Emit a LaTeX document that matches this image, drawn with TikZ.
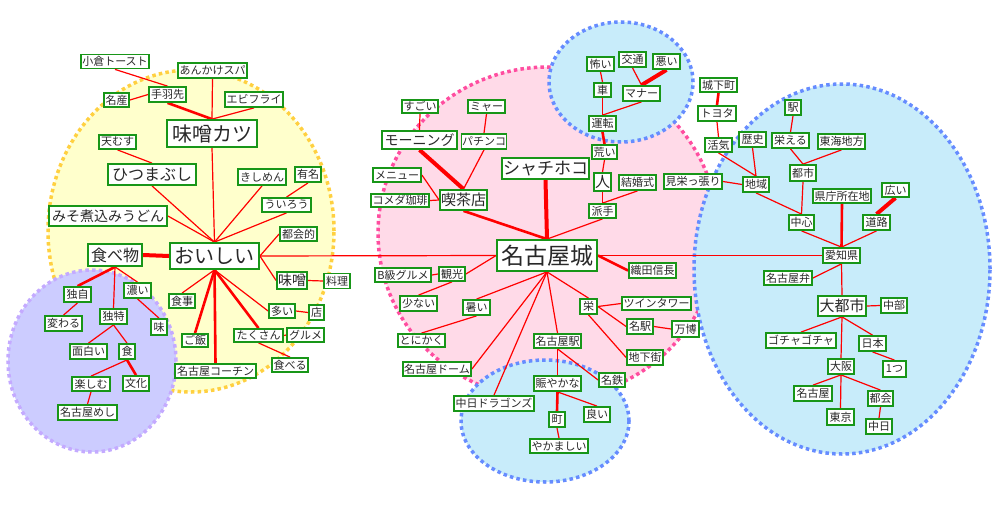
\documentclass[tikz,border=0pt]{standalone}
\usepackage{fontspec}
\usetikzlibrary{backgrounds}
\newfontfamily\jp{Noto Sans CJK JP}
\definecolor{nodegreen}{RGB}{24,150,24}
\definecolor{yfill}{RGB}{255,255,204}
\definecolor{ydraw}{RGB}{255,208,64}
\definecolor{pfill}{RGB}{204,204,255}
\definecolor{pdraw}{RGB}{196,170,255}
\definecolor{kfill}{RGB}{255,218,232}
\definecolor{kdraw}{RGB}{255,77,160}
\definecolor{bfill}{RGB}{200,236,250}
\definecolor{bdraw}{RGB}{102,140,255}
\definecolor{ink}{RGB}{40,40,40}
\tikzset{
  box/.style={draw=nodegreen, line width=1.8pt, fill=white, inner sep=0.5pt, text=ink},
  s11/.style={font=\jp\fontsize{11}{12}\selectfont},
  s14/.style={font=\jp\fontsize{14}{15}\selectfont},
  s15/.style={font=\jp\fontsize{15}{16}\selectfont},
  s16/.style={font=\jp\fontsize{16}{17}\selectfont},
  s17/.style={font=\jp\fontsize{17}{18}\selectfont},
  s20/.style={font=\jp\fontsize{20}{21}\selectfont},
  s23/.style={font=\jp\fontsize{23}{24}\selectfont},
  ln/.style={draw=red, line width=1.2pt},
  lnm/.style={draw=red, line width=2.6pt},
  lnt/.style={draw=red, line width=4pt},
  cluster/.style={line width=3.5pt, dash pattern=on 3.5pt off 3.2pt},
}
\newcommand\nd[7]{\node[box,#6,minimum width=#4pt,minimum height=#5pt] (#1) at (#2,#3) {#7};}
\begin{document}
\begin{tikzpicture}[x=1pt,y=-1pt]
\useasboundingbox (0,0) rectangle (1000,519);

% nodes (yellow)
\nd{ogura}{115}{61.5}{68}{14}{s11}{小倉トースト}
\nd{ankake}{212.5}{70.5}{69}{15}{s11}{あんかけスパ}
\nd{meisan}{116.5}{100}{25}{14}{s11}{名産}
\nd{tebasaki}{167.5}{94.5}{37}{15}{s11}{手羽先}
\nd{ebi}{254}{99.5}{58}{15}{s11}{エビフライ}
\nd{misokatsu}{212}{133.5}{90}{27}{s20}{味噌カツ}
\nd{tenmusu}{117.5}{142}{37}{14}{s11}{天むす}
\nd{hitsu}{152}{174.5}{88}{21}{s16}{ひつまぶし}
\nd{kishi}{262}{177}{48}{16}{s11}{きしめん}
\nd{yumei}{308}{174.5}{26}{15}{s11}{有名}
\nd{uiro}{286.5}{205}{49}{14}{s11}{ういろう}
\nd{nikomi}{108}{216}{118}{20}{s14}{みそ煮込みうどん}
\nd{tokaiteki}{298.5}{234}{37}{14}{s11}{都会的}
\nd{tabemono}{115}{255}{54}{22}{s16}{食べ物}
\nd{oishii}{214.5}{256}{89}{26}{s20}{おいしい}
\nd{miso}{292}{280.5}{30}{17}{s14}{味噌}
\nd{ryori}{337}{281}{26}{15}{s11}{料理}
\nd{shokuji}{182}{301}{26}{14}{s11}{食事}
\nd{ooi}{282}{311}{26}{14}{s11}{多い}
\nd{mise}{316.5}{312.5}{15}{15}{s11}{店}
\nd{gohan}{195}{340.5}{26}{13}{s11}{ご飯}
\nd{takusan}{258.5}{335.5}{49}{13}{s11}{たくさん}
\nd{gurume}{305.5}{335}{37}{14}{s11}{グルメ}
\nd{taberu}{290}{365}{36}{14}{s11}{食べる}
\nd{cochin}{215.5}{371}{81}{14}{s11}{名古屋コーチン}
% purple
\nd{dokuji}{77.5}{294.5}{27}{15}{s11}{独自}
\nd{koi}{137.5}{290.5}{27}{15}{s11}{濃い}
\nd{dokutoku}{113.5}{316.5}{27}{15}{s11}{独特}
\nd{kawaru}{63.5}{323.5}{37}{15}{s11}{変わる}
\nd{aji}{159}{327}{16}{16}{s11}{味}
\nd{omoshiroi}{88.5}{351.5}{37}{15}{s11}{面白い}
\nd{shoku}{127}{351.5}{16}{15}{s11}{食}
\nd{tanoshimu}{91}{384}{38}{14}{s11}{楽しむ}
\nd{bunka}{136}{383.5}{26}{15}{s11}{文化}
\nd{meshi}{87.5}{412.5}{59}{15}{s11}{名古屋めし}
% pink
\nd{sugoi}{420}{106.5}{36}{13}{s11}{すごい}
\nd{myaa}{486.5}{106.5}{37}{13}{s11}{ミャー}
\nd{morning}{419.5}{140}{75}{18}{s14}{モーニング}
\nd{pachinko}{484}{141.5}{42}{15}{s11}{パチンコ}
\nd{shachi}{545.5}{168.5}{87}{21}{s17}{シャチホコ}
\nd{arai}{604.5}{152}{25}{14}{s11}{荒い}
\nd{hito}{602.5}{182}{17}{18}{s15}{人}
\nd{kekkon}{637.5}{182.5}{37}{15}{s11}{結婚式}
\nd{mie}{693}{181.5}{58}{15}{s11}{見栄っ張り}
\nd{menu}{397}{175}{48}{14}{s11}{メニュー}
\nd{komeda}{400}{200.5}{58}{13}{s11}{コメダ珈琲}
\nd{kissa}{463.5}{200}{47}{20}{s15}{喫茶店}
\nd{hade}{602.5}{211}{27}{14}{s11}{派手}
\nd{nagoyajo}{547}{255.5}{100}{31}{s23}{名古屋城}
\nd{bkyu}{403}{275}{56}{14}{s11}{B級グルメ}
\nd{kanko}{452}{274}{26}{14}{s11}{観光}
\nd{oda}{652.5}{270.5}{47}{15}{s11}{織田信長}
\nd{sukunai}{418.5}{303.5}{37}{15}{s11}{少ない}
\nd{atsui}{476.5}{307.5}{27}{15}{s11}{暑い}
\nd{sakae}{588.5}{306.5}{17}{15}{s11}{栄}
\nd{twin}{656.5}{303.5}{69}{13}{s11}{ツインタワー}
\nd{meieki}{640}{326.5}{26}{15}{s11}{名駅}
\nd{banpaku}{685.5}{329}{27}{16}{s11}{万博}
\nd{tonikaku}{421.5}{340.5}{47}{13}{s11}{とにかく}
\nd{nagoyaeki}{557.5}{341}{47}{14}{s11}{名古屋駅}
\nd{chika}{645}{357.5}{36}{15}{s11}{地下街}
\nd{dome}{437}{369}{68}{14}{s11}{名古屋ドーム}
\nd{nigi}{557.5}{383.5}{47}{15}{s11}{賑やかな}
\nd{meitetsu}{612}{380}{26}{14}{s11}{名鉄}
\nd{dragons}{494}{403.5}{80}{15}{s11}{中日ドラゴンズ}
\nd{machi}{557}{419.5}{16}{15}{s11}{町}
\nd{yoi}{597}{414.5}{26}{15}{s11}{良い}
\nd{yakamashii}{559}{446}{58}{14}{s11}{やかましい}
% blue top
\nd{kowai}{600.5}{64}{27}{14}{s11}{怖い}
\nd{kotsu}{632.5}{59.5}{27}{15}{s11}{交通}
\nd{warui}{666.5}{61.5}{27}{15}{s11}{悪い}
\nd{kuruma}{602.5}{90}{17}{14}{s11}{車}
\nd{manner}{641.5}{93.5}{37}{15}{s11}{マナー}
\nd{unten}{602.5}{123.5}{27}{15}{s11}{運転}
\nd{jokamachi}{718.5}{85}{37}{14}{s11}{城下町}
\nd{toyota}{717}{113.5}{38}{15}{s11}{トヨタ}
\nd{kakki}{718.5}{145}{27}{14}{s11}{活気}
% right
\nd{eki}{793}{107.5}{16}{15}{s11}{駅}
\nd{rekishi}{752.5}{139.5}{27}{15}{s11}{歴史}
\nd{sakaeru}{790.5}{140.5}{37}{15}{s11}{栄える}
\nd{tokai}{841.5}{141.5}{47}{15}{s11}{東海地方}
\nd{toshi}{803}{173}{26}{16}{s11}{都市}
\nd{chiiki}{756}{184.5}{26}{15}{s11}{地域}
\nd{kencho}{842}{196}{58}{14}{s11}{県庁所在地}
\nd{hiroi}{895.5}{190}{27}{14}{s11}{広い}
\nd{chushin}{801.5}{222.5}{25}{15}{s11}{中心}
\nd{doro}{876.5}{222.5}{27}{15}{s11}{道路}
\nd{aichi}{841.5}{255.5}{37}{15}{s11}{愛知県}
\nd{nagoyaben}{788}{278}{48}{14}{s11}{名古屋弁}
\nd{daitoshi}{842}{306}{48}{20}{s15}{大都市}
\nd{chubu}{894}{305.5}{26}{15}{s11}{中部}
\nd{gocha}{801}{340.5}{70}{15}{s11}{ゴチャゴチャ}
\nd{nihon}{872.5}{343.5}{27}{15}{s11}{日本}
\nd{osaka}{841}{366.5}{26}{15}{s11}{大阪}
\nd{hitotsu}{894.5}{369}{23}{16}{s11}{1つ}
\nd{nagoya}{813}{393.5}{38}{15}{s11}{名古屋}
\nd{tokai2}{880.5}{398.5}{25}{15}{s11}{都会}
\nd{tokyo}{840.5}{417}{27}{16}{s11}{東京}
\nd{chunichi}{879}{426.5}{26}{15}{s11}{中日}

\begin{scope}[on background layer]
\fill[white] (0,0) rectangle (1000,519);
% clusters
\draw[cluster, fill=yfill, draw=ydraw] (191,231) ellipse [x radius=143pt, y radius=161pt];
\draw[cluster, fill=pfill, draw=pdraw] (92,361) ellipse [x radius=84pt, y radius=91pt];
\draw[cluster, fill=kfill, draw=kdraw] (548,233) ellipse [x radius=170pt, y radius=166pt];
\draw[cluster, fill=bfill, draw=bdraw] (621,82) ellipse [x radius=72pt, y radius=60pt];
\draw[cluster, fill=bfill, draw=bdraw] (842,269) ellipse [x radius=148pt, y radius=185pt];
\draw[cluster, fill=bfill, draw=bdraw] (545,421) ellipse [x radius=84pt, y radius=61pt];
% edges: yellow
\draw[ln] (ogura.south) -- (tebasaki.north);
\draw[ln] (meisan.east) -- (tebasaki.west);
\draw[lnm] (tebasaki.south) -- (misokatsu.north);
\draw[ln] (ankake.south) -- (misokatsu.north);
\draw[ln] (ebi.south) -- (misokatsu.north);
\draw[ln] (tenmusu.south) -- (hitsu.north);
\draw[ln] (misokatsu.south) -- (oishii.north);
\draw[ln] (hitsu.south) -- (oishii.north);
\draw[ln] (nikomi.east) -- (oishii.north);
\draw[ln] (kishi.south) -- (oishii.north);
\draw[ln] (uiro.south) -- (oishii.north);
\draw[ln] (yumei.south) -- (uiro.north);
\draw[ln] (tokaiteki.west) -- (oishii.east);
\draw[ln] (miso.west) -- (oishii.east);
\draw[ln] (miso.east) -- (ryori.west);
\draw[lnt] (tabemono.east) -- (oishii.west);
\draw[ln] (oishii.south) -- (shokuji.north);
\draw[lnm] (oishii.south) -- (gohan.north);
\draw[lnm] (oishii.south) -- (cochin.north);
\draw[lnm] (oishii.south) -- (takusan.north);
\draw[ln] (oishii.south) -- (ooi.west);
\draw[ln] (ooi.east) -- (mise.west);
\draw[ln] (takusan.east) -- (gurume.west);
\draw[ln] (takusan.south) -- (taberu.north);
\draw[ln] (oishii.east) -- (nagoyajo.west);
% purple
\draw[lnm] (tabemono.south) -- (dokuji.north);
\draw[ln] (tabemono.south) -- (dokutoku.north);
\draw[ln] (tabemono.south) -- (koi.north);
\draw[ln] (dokuji.south) -- (kawaru.north);
\draw[ln] (koi.south) -- (aji.north);
\draw[ln] (dokutoku.south) -- (omoshiroi.north);
\draw[ln] (dokutoku.south) -- (shoku.north);
\draw[ln] (shoku.south) -- (tanoshimu.north);
\draw[lnm] (shoku.south) -- (bunka.north);
\draw[ln] (tanoshimu.south) -- (meshi.north);
% pink
\draw[ln] (sugoi.south) -- (morning.north);
\draw[ln] (myaa.south) -- (pachinko.north);
\draw[lnt] (morning.south) -- (kissa.north);
\draw[ln] (pachinko.south) -- (kissa.north);
\draw[ln] (menu.east) -- (kissa.west);
\draw[ln] (komeda.east) -- (kissa.west);
\draw[lnm] (kissa.south) -- (nagoyajo.north);
\draw[lnt] (shachi.south) -- (nagoyajo.north);
\draw[ln] (hade.south) -- (nagoyajo.north);
\draw[ln] (hito.south) -- (hade.north);
\draw[ln] (kekkon.south) -- (hade.north);
\draw[ln] (arai.south) -- (hito.north);
\draw[lnm] (unten.south) -- (arai.north);
\draw[ln] (kuruma.south) -- (unten.north);
\draw[ln] (kowai.south) -- (kuruma.north);
\draw[ln] (manner.south) -- (unten.north);
\draw[ln] (kotsu.south) -- (manner.north);
\draw[lnt] (warui.south) -- (manner.north);
\draw[lnm] (jokamachi.south) -- (toyota.north);
\draw[ln] (toyota.south) -- (kakki.north);
\draw[ln] (kakki.south) -- (chiiki.north);
\draw[ln] (mie.east) -- (chiiki.west);
\draw[ln] (rekishi.south) -- (chiiki.north);
\draw[ln] (nagoyajo.west) -- (kanko.east);
\draw[ln] (kanko.west) -- (bkyu.east);
\draw[ln] (kanko.south) -- (sukunai.north);
\draw[ln] (nagoyajo.south) -- (atsui.north);
\draw[ln] (atsui.south) -- (tonikaku.north);
\draw[ln] (nagoyajo.south) -- (dome.east);
\draw[ln] (nagoyajo.south) -- (dragons.north);
\draw[ln] (nagoyajo.south) -- (nagoyaeki.north);
\draw[ln] (nagoyajo.south) -- (sakae.north);
\draw[ln] (sakae.east) -- (twin.west);
\draw[ln] (sakae.east) -- (meieki.west);
\draw[ln] (meieki.east) -- (banpaku.west);
\draw[ln] (sakae.south) -- (chika.west);
\draw[ln] (nagoyaeki.south) -- (nigi.north);
\draw[ln] (nagoyaeki.south) -- (meitetsu.west);
\draw[lnm] (nagoyajo.east) -- (oda.west);
\draw[ln] (nagoyajo.east) -- (aichi.west);
\draw[lnm] (nigi.south) -- (machi.north);
\draw[ln] (nigi.south) -- (yoi.north);
\draw[ln] (machi.south) -- (yakamashii.north);
% right
\draw[ln] (eki.south) -- (sakaeru.north);
\draw[ln] (sakaeru.south) -- (toshi.north);
\draw[ln] (tokai.south) -- (toshi.north);
\draw[ln] (toshi.south) -- (chushin.north);
\draw[ln] (chiiki.south) -- (chushin.north);
\draw[ln] (chushin.south) -- (aichi.north);
\draw[lnm] (kencho.south) -- (aichi.north);
\draw[ln] (doro.south) -- (aichi.north);
\draw[lnt] (hiroi.south) -- (doro.north);
\draw[ln] (aichi.south) -- (nagoyaben.east);
\draw[ln] (aichi.south) -- (daitoshi.north);
\draw[ln] (daitoshi.east) -- (chubu.west);
\draw[ln] (daitoshi.south) -- (gocha.north);
\draw[ln] (daitoshi.south) -- (nihon.north);
\draw[ln] (daitoshi.south) -- (osaka.north);
\draw[ln] (nihon.south) -- (hitotsu.north);
\draw[ln] (osaka.south) -- (nagoya.north);
\draw[ln] (osaka.south) -- (tokyo.north);
\draw[ln] (osaka.south) -- (tokai2.north);
\draw[ln] (tokai2.south) -- (chunichi.north);
\end{scope}
\end{tikzpicture}
\end{document}
